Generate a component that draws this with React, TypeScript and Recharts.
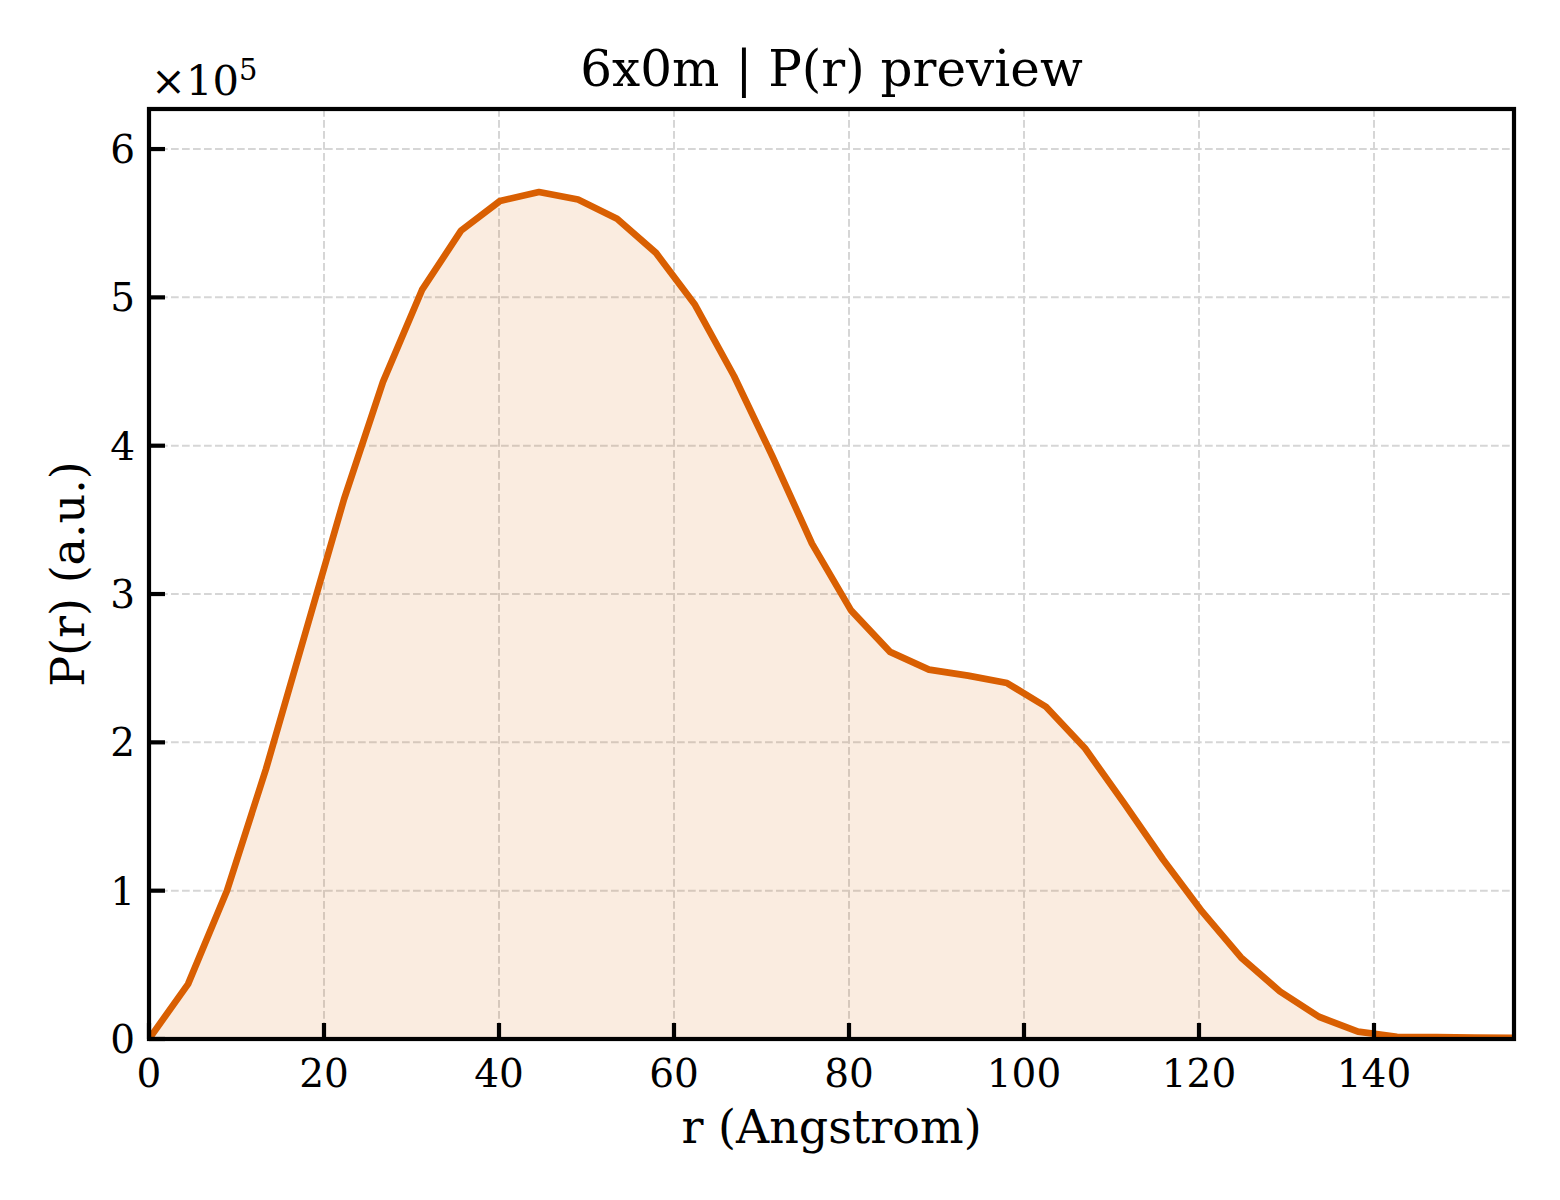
import { ComposedChart, Area, Line, XAxis, YAxis, CartesianGrid, Label } from 'recharts';

const rValues = [
  0, 4.46, 8.91, 13.37, 17.83, 22.29, 26.74, 31.2, 35.66, 40.11, 44.57, 49.03,
  53.49, 57.94, 62.4, 66.86, 71.31, 75.77, 80.23, 84.69, 89.14, 93.6, 98.06, 102.51,
  106.97, 111.43, 115.89, 120.34, 124.8, 129.26, 133.71, 138.17, 142.63, 147.09, 151.54, 156,
];
const prValues = [
  0, 37000, 100000, 182000, 273000, 364000, 443000, 505000, 545000, 565000, 571000, 566000,
  553000, 530000, 495000, 447000, 392000, 334000, 289000, 261000, 249000, 245000, 240000, 224000,
  196000, 159000, 121000, 86000, 55000, 32000, 15000, 5000, 1500, 1200, 1000, 800,
];
const xTicks = [0, 20, 40, 60, 80, 100, 120, 140];
const yTicks = [0, 100000, 200000, 300000, 400000, 500000, 600000];

const data = rValues.map((r, i) => ({ r, pr: prValues[i] }));

const FONT = "'DejaVu Serif', serif";
const ORANGE = '#d95f02';
const PLOT_TOP = 109;

const XTick = ({ x, y, payload }: any) => (
  <g>
    <line x1={x} y1={y} x2={x} y2={y - 16} stroke="#000" strokeWidth={4.2} />
    <text x={x} y={y + 48} textAnchor="middle" fontFamily={FONT} fontSize={39} fill="#000">
      {payload.value}
    </text>
  </g>
);

const YTick = ({ x, y, payload }: any) => (
  <g>
    <line x1={x} y1={y} x2={x + 16} y2={y} stroke="#000" strokeWidth={4.2} />
    <text x={x - 14} y={y} dy="0.36em" textAnchor="end" fontFamily={FONT} fontSize={39} fill="#000">
      {payload.value / 100000}
    </text>
  </g>
);

export default function App() {
  return (
    <div style={{ position: 'absolute', left: 0, top: 0, width: 1560, height: 1200, background: '#fff' }}>
      <div
        style={{
          position: 'absolute', left: 149, width: 1365, top: 44, textAlign: 'center',
          fontFamily: FONT, fontSize: 50, lineHeight: '50px', color: '#000', whiteSpace: 'nowrap',
        }}
      >
        6x0m | P(r) preview
      </div>
      <ComposedChart
        width={1560}
        height={1200}
        data={data}
        margin={{ top: PLOT_TOP, right: 46, left: 69, bottom: 81 }}
      >
        <CartesianGrid stroke="#d6d6d6" strokeWidth={2} strokeDasharray="7.7 3.3" />
        <Area
          type="linear"
          dataKey="pr"
          stroke="none"
          fill={ORANGE}
          fillOpacity={0.12}
          dot={false}
          activeDot={false}
          isAnimationActive={false}
        />
        <Line
          type="linear"
          dataKey="pr"
          stroke={ORANGE}
          strokeWidth={6.7}
          strokeLinejoin="round"
          dot={false}
          activeDot={false}
          isAnimationActive={false}
        />
        <XAxis
          dataKey="r"
          type="number"
          domain={[0, 156]}
          ticks={xTicks}
          allowDataOverflow
          height={80}
          tickSize={0}
          tickMargin={0}
          tickLine={false}
          tick={<XTick />}
          axisLine={false}
        >
          <Label
            content={({ viewBox }: any) => (
              <g>
                <rect
                  x={viewBox.x}
                  y={PLOT_TOP}
                  width={viewBox.width}
                  height={viewBox.y - PLOT_TOP}
                  fill="none"
                  stroke="#000"
                  strokeWidth={4.2}
                />
                <text
                  x={viewBox.x + viewBox.width / 2}
                  y={viewBox.y + 104}
                  textAnchor="middle"
                  fontFamily={FONT}
                  fontSize={46}
                  fill="#000"
                >
                  r (Angstrom)
                </text>
              </g>
            )}
          />
        </XAxis>
        <YAxis
          type="number"
          domain={[0, 627000]}
          ticks={yTicks}
          allowDataOverflow
          width={80}
          tickSize={0}
          tickMargin={0}
          tickLine={false}
          tick={<YTick />}
          axisLine={false}
        >
          <Label
            content={({ viewBox }: any) => {
              const cx = 67;
              const cy = viewBox.y + viewBox.height / 2;
              return (
                <g>
                  <text
                    x={cx}
                    y={cy}
                    transform={`rotate(-90 ${cx} ${cy})`}
                    textAnchor="middle"
                    dy="0.36em"
                    fontFamily={FONT}
                    fontSize={46}
                    fill="#000"
                  >
                    P(r) (a.u.)
                  </text>
                  <text x={151} y={viewBox.y - 14} fontFamily={FONT} fontSize={41.7} fill="#000">
                    ×10
                    <tspan dy={-15} fontSize={29}>5</tspan>
                  </text>
                </g>
              );
            }}
          />
        </YAxis>
      </ComposedChart>
    </div>
  );
}
